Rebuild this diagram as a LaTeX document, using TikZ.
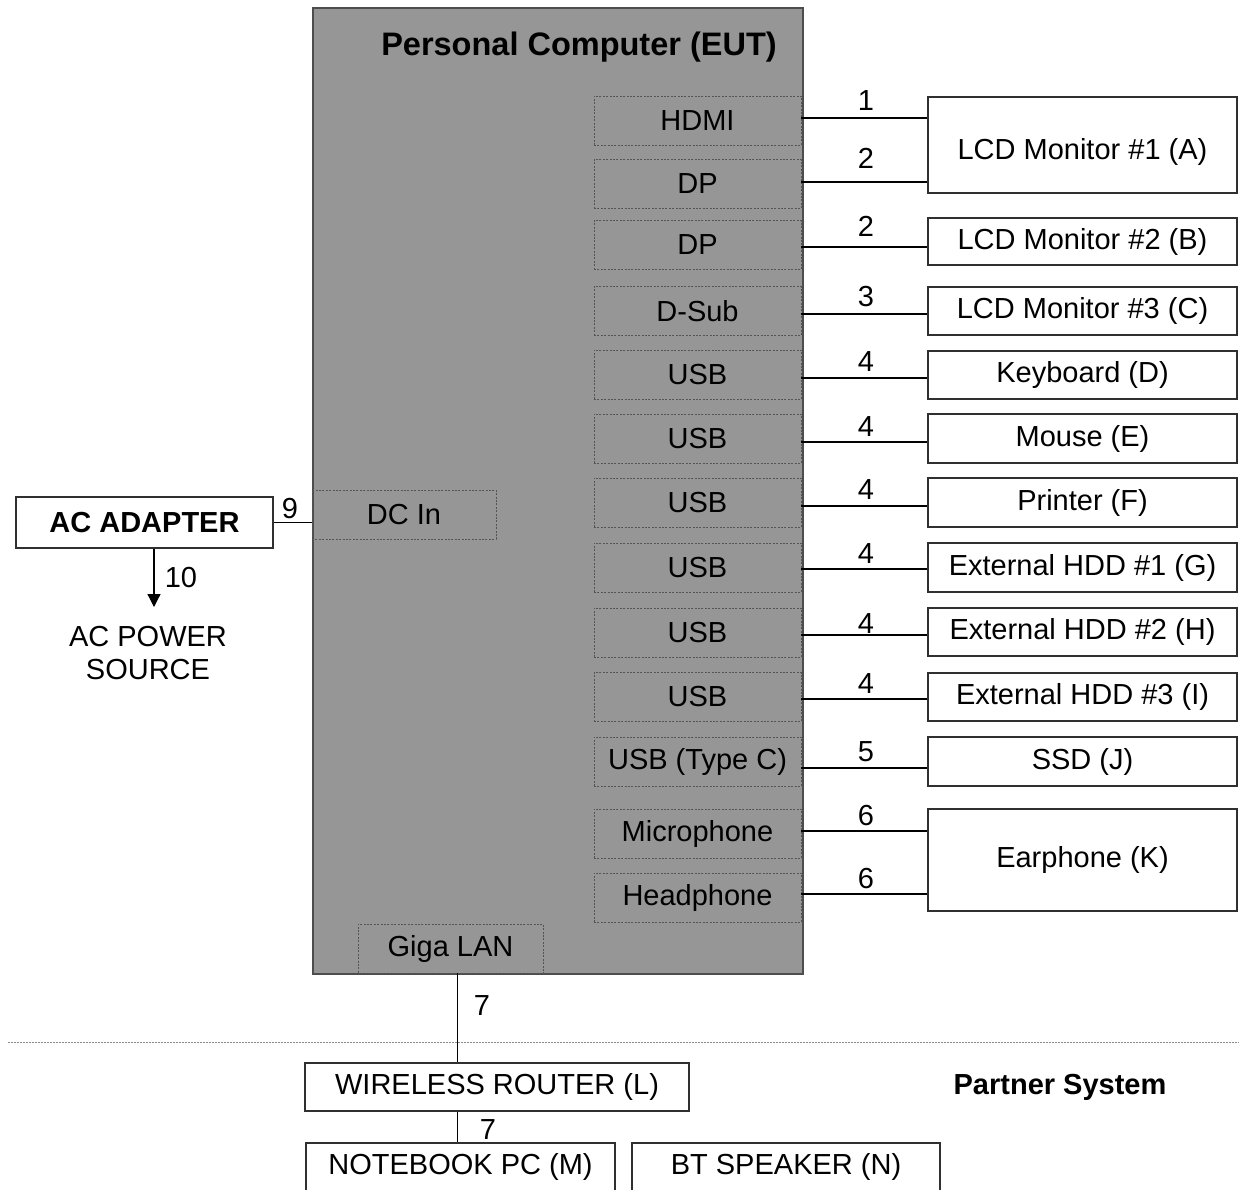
\documentclass[tikz,border=0pt]{standalone}
\usepackage{fontspec}
\setmainfont{Liberation Sans}
\usetikzlibrary{arrows.meta}
\definecolor{pcgray}{HTML}{969696}
\definecolor{pcedge}{HTML}{4D4D4D}
\definecolor{portedge}{HTML}{555555}
\definecolor{devedge}{HTML}{303030}
\definecolor{sepgray}{HTML}{8C8C8C}
\newcommand\txtsz{\fontsize{29}{33}\selectfont}
\newcommand\ttlsz{\fontsize{32.5}{37}\selectfont\bfseries}
\begin{document}
\begin{tikzpicture}[x=1pt,y=-1pt,
  pcbox/.style={draw=pcedge,fill=pcgray,line width=1.6pt,inner sep=0pt,anchor=north west},
  port/.style={draw=portedge,line width=0.8pt,dash pattern=on 2pt off 1.4pt,
    inner sep=0pt,font=\txtsz,minimum width=207pt,minimum height=49pt},
  dev/.style={draw=devedge,fill=white,line width=1.3pt,inner sep=0pt,font=\txtsz,
    minimum width=309pt},
  wire/.style={draw=black,line width=1.6pt},
  lbl/.style={font=\txtsz,inner sep=0pt},
  sep/.style={draw=sepgray,line width=1pt,dash pattern=on 1.6pt off 1.4pt}]
\useasboundingbox (0,0) rectangle (1239,1189);
\clip (0,0) rectangle (1239,1189);

% equipment under test
\node[pcbox,minimum width=490pt,minimum height=966pt] (pc) at (312,7) {};
\node[font=\ttlsz,inner sep=0pt] (pcttl) at (579,47) {Personal Computer (EUT)};

% ports on the computer
\node[port] (p1)  at (697.5,120.5) {HDMI};
\node[port] (p2)  at (697.5,184)   {DP};
\node[port] (p3)  at (697.5,245)   {DP};
\node[port] (p4)  at (697.5,311)   {D-Sub};
\node[port] (p5)  at (697.5,374.5) {USB};
\node[port] (p6)  at (697.5,438.5) {USB};
\node[port] (p7)  at (697.5,502.5) {USB};
\node[port] (p8)  at (697.5,567.5) {USB};
\node[port] (p9)  at (697.5,632.5) {USB};
\node[port] (p10) at (697.5,697)   {USB};
\node[port] (p11) at (697.5,761.5) {USB (Type C)};
\node[port] (p12) at (697.5,833.5) {Microphone};
\node[port] (p13) at (697.5,897.5) {Headphone};
\node[port,minimum width=184pt] (dc)  at (404,514.5) {DC In};
\node[port,minimum width=185pt] (lan) at (450.5,948.5) {Giga LAN};

% peripherals
\node[dev,minimum height=96pt,
  label={[lbl,yshift=-7pt]center:LCD Monitor \#1 (A)}] (mon1) at (1082.5,145) {};
\node[dev,minimum height=47pt]  (mon2) at (1082.5,241.5) {LCD Monitor \#2 (B)};
\node[dev,minimum height=48pt]  (mon3) at (1082.5,311)   {LCD Monitor \#3 (C)};
\node[dev,minimum height=48pt]  (kbd)  at (1082.5,375)   {Keyboard (D)};
\node[dev,minimum height=49pt]  (mse)  at (1082.5,438.5) {Mouse (E)};
\node[dev,minimum height=49pt]  (prn)  at (1082.5,502.5) {Printer (F)};
\node[dev,minimum height=49pt]  (hdd1) at (1082.5,567.5) {External HDD \#1 (G)};
\node[dev,minimum height=48pt]  (hdd2) at (1082.5,632)   {External HDD \#2 (H)};
\node[dev,minimum height=48pt]  (hdd3) at (1082.5,697)   {External HDD \#3 (I)};
\node[dev,minimum height=49pt]  (ssd)  at (1082.5,761.5) {SSD (J)};
\node[dev,minimum height=102pt] (ear)  at (1082.5,860)   {Earphone (K)};

% cables from the computer to the peripherals
\draw[wire] (p1.east |- 0,118)  -- (mon1.west |- 0,118);
\draw[wire] (p2.east |- 0,182)  -- (mon1.west |- 0,182);
\draw[wire] (p3.east |- 0,247)  -- (mon2.west |- 0,247);
\draw[wire] (p4.east |- 0,314)  -- (mon3.west |- 0,314);
\draw[wire] (p5.east |- 0,378)  -- (kbd.west |- 0,378);
\draw[wire] (p6.east |- 0,442)  -- (mse.west |- 0,442);
\draw[wire] (p7.east |- 0,506)  -- (prn.west |- 0,506);
\draw[wire] (p8.east |- 0,569)  -- (hdd1.west |- 0,569);
\draw[wire] (p9.east |- 0,635)  -- (hdd2.west |- 0,635);
\draw[wire] (p10.east |- 0,699) -- (hdd3.west |- 0,699);
\draw[wire] (p11.east |- 0,768) -- (ssd.west |- 0,768);
\draw[wire] (p12.east |- 0,831) -- (ear.west |- 0,831);
\draw[wire] (p13.east |- 0,894) -- (ear.west |- 0,894);

% cable numbers
\node[lbl] (n1)  at (866,101) {1};
\node[lbl] (n2)  at (866,158) {2};
\node[lbl] (n3)  at (866,226) {2};
\node[lbl] (n4)  at (866,297) {3};
\node[lbl] (n5)  at (866,362) {4};
\node[lbl] (n6)  at (866,427) {4};
\node[lbl] (n7)  at (866,490) {4};
\node[lbl] (n8)  at (866,554) {4};
\node[lbl] (n9)  at (866,624) {4};
\node[lbl] (n10) at (866,684) {4};
\node[lbl] (n11) at (866,752) {5};
\node[lbl] (n12) at (866,816) {6};
\node[lbl] (n13) at (866,879) {6};

% power path
\node[dev,minimum width=257pt,minimum height=51pt,font=\txtsz\bfseries] (ac) at (144.5,522.5) {AC ADAPTER};
\draw[wire,line width=1.2pt] (ac.east) -- (ac.east -| dc.west);
\node[lbl] (n9dc) at (290,509) {9};
\coordinate (tip) at (154,607);
\draw[wire,line width=1.2pt,-{Triangle[length=13pt,width=13pt]}] (ac.south -| tip) -- (tip);
\node[lbl] (n10ac) at (181,578) {10};
\node[lbl,align=center] (src) at (148,653) {AC POWER\\SOURCE};

% partner system
\draw[sep] (8,1042) coordinate (sepl) -- (1239,1042) coordinate (sepr);
\node[dev,minimum width=384pt,minimum height=48pt] (rtr) at (497,1087) {WIRELESS ROUTER (L)};
\node[dev,minimum height=48pt] (nb) at (460.5,1167) {NOTEBOOK PC (M)};
\node[dev,minimum width=308pt,minimum height=48pt] (bt) at (786,1167) {BT SPEAKER (N)};
\coordinate (lanx) at (457.5,0);
\draw[wire,line width=1.3pt] (lan.south -| lanx) -- (rtr.north -| lanx);
\draw[wire,line width=1.3pt] (rtr.south -| lanx) -- (nb.north -| lanx);
\node[lbl] (n7a) at (482,1006) {7};
\node[lbl] (n7b) at (488,1130) {7};
\node[font=\txtsz\bfseries,inner sep=0pt] (partner) at (1060,1087) {Partner System};
\end{tikzpicture}
\end{document}
